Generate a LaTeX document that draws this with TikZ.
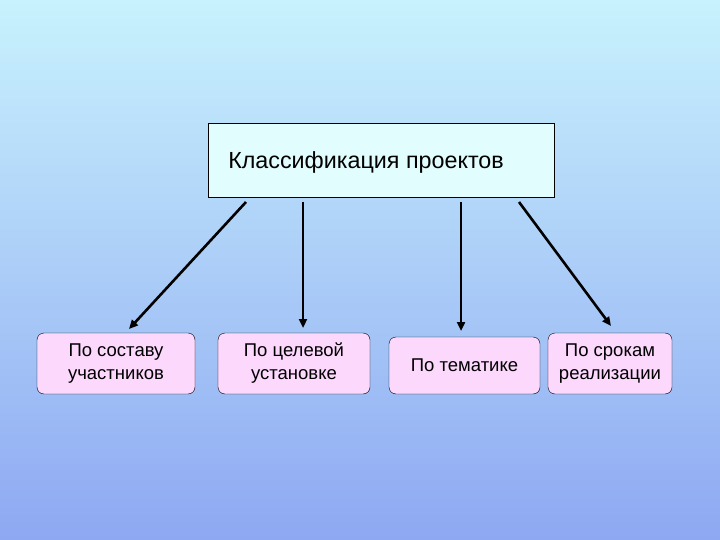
\documentclass[tikz,border=0pt]{standalone}
\usepackage{fontspec}
\setmainfont{Liberation Sans}
\usetikzlibrary{arrows.meta}
\definecolor{bgtop}{HTML}{C8F2FD}
\definecolor{bgbot}{HTML}{8EA8F2}
\definecolor{topfill}{HTML}{E2FDFD}
\definecolor{pinkfill}{HTML}{FCD8FC}
\tikzset{
  x=1pt,y=-1pt,
  sub/.style={draw=black,fill=pinkfill,rounded corners=7pt,minimum height=61pt,align=center,font=\fontsize{18.5}{23}\selectfont,inner sep=2pt},
  arr/.style={-{Triangle[length=9pt,width=8pt]},line width=2.6pt}
}
\begin{document}
\begin{tikzpicture}
\shade[top color=bgtop,bottom color=bgbot] (0,0) rectangle (720,540);
\useasboundingbox (0,0) rectangle (720,540);
\node[draw=black,fill=topfill,minimum width=346pt,minimum height=74pt] (top) at (381,160) {};
\node[font=\fontsize{23.3}{27}\selectfont] (tt) at (366,162) {Классификация проектов};
\node[sub,minimum width=158pt] (b1) at (116,363.5) {По составу\\участников};
\node[sub,minimum width=152pt] (b2) at (294,363.5) {По целевой\\установке};
\node[sub,minimum width=151pt,minimum height=57pt] (b3) at (464.5,365.5) {По тематике};
\node[sub,minimum width=124pt] (b4) at (610,363.5) {По срокам\\реализации};
\coordinate (s1) at (246,202); \coordinate (e1) at (129,329);
\coordinate (s2) at (303,202); \coordinate (e2) at (303,328);
\coordinate (s3) at (461,202); \coordinate (e3) at (461,331);
\coordinate (s4) at (519,202); \coordinate (e4) at (611,326);
\draw[arr] (s1) -- (e1);
\draw[arr] (s2) -- (e2);
\draw[arr] (s3) -- (e3);
\draw[arr] (s4) -- (e4);
\end{tikzpicture}
\end{document}
